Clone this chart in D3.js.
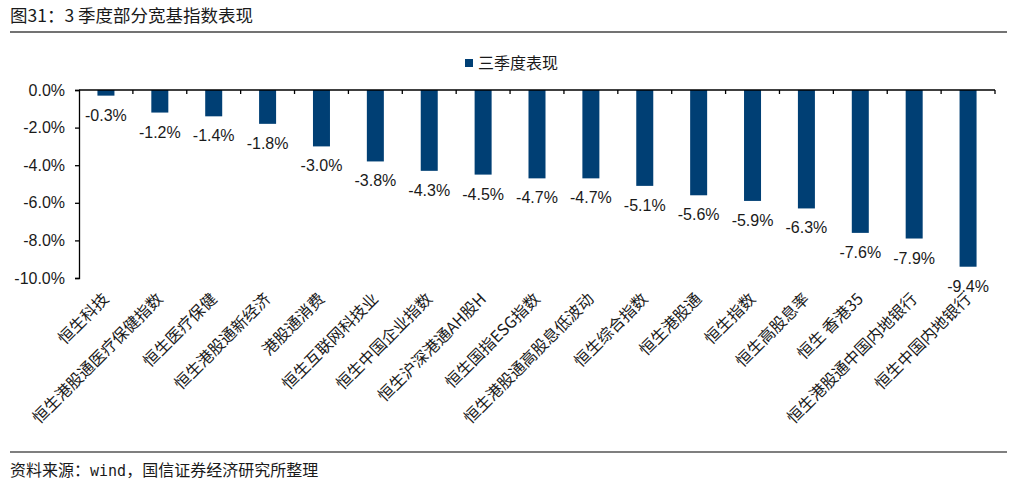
<!DOCTYPE html>
<html><head><meta charset="utf-8">
<script src="https://cdn.jsdelivr.net/npm/d3@7"></script>
<style>
html,body{margin:0;padding:0;background:#fff;}
svg{display:block;}
</style>
</head><body>
<svg id="chart" width="1017" height="485"></svg>
<script>
const categories = ["恒生科技","恒生港股通医疗保健指数","恒生医疗保健","恒生港股通新经济","港股通消费","恒生互联网科技业","恒生中国企业指数","恒生沪深港通AH股H","恒生国指ESG指数","恒生港股通高股息低波动","恒生综合指数","恒生港股通","恒生指数","恒生高股息率","恒生 香港35","恒生港股通中国内地银行","恒生中国内地银行"];
const values = [-0.3,-1.2,-1.4,-1.8,-3.0,-3.8,-4.3,-4.5,-4.7,-4.7,-5.1,-5.6,-5.9,-6.3,-7.6,-7.9,-9.4];
const yTicks = [0,-2,-4,-6,-8,-10];
const seriesName = "三季度表现";
const titleText = "图31：3 季度部分宽基指数表现";

const svg = d3.select("#chart");
const W = 1017;
const cjk = "'Noto Sans CJK SC','Noto Sans',sans-serif";
const latin = "'Liberation Sans',Arial,sans-serif";
const barColor = "#003f74";

// Title
svg.append("text").attr("x",10).attr("y",22)
  .attr("font-family",cjk).attr("font-size",17.5).attr("fill","#1a1a1a")
  .text(titleText);
svg.append("line").attr("x1",10).attr("x2",1007).attr("y1",32).attr("y2",32)
  .attr("stroke","#444").attr("stroke-width",1.5);

// Footer
svg.append("line").attr("x1",10).attr("x2",1007).attr("y1",452).attr("y2",452)
  .attr("stroke","#555").attr("stroke-width",1.5);
const ft = svg.append("text").attr("x",10).attr("y",476)
  .attr("font-family",cjk).attr("font-size",16).attr("fill","#1a1a1a");
ft.append("tspan").text("资料来源：");
ft.append("tspan").attr("font-family","'DejaVu Sans Mono','Liberation Mono',monospace").attr("font-size",15).text("wind");
ft.append("tspan").text("，国信证券经济研究所整理");

// Scales
const x = d3.scaleBand().domain(categories).range([79,995]).padding(0);
const y = d3.scaleLinear().domain([-10,0]).range([278,90]);
const barW = 17;

// Legend
svg.append("rect").attr("x",465).attr("y",59).attr("width",8).attr("height",8).attr("fill",barColor);
svg.append("text").attr("x",478).attr("y",69).attr("font-family",cjk).attr("font-size",16)
  .attr("fill","#1a1a1a").text(seriesName);

// Bars
svg.append("g").selectAll("rect").data(values).join("rect")
  .attr("x",(d,i)=>x(categories[i]) + (x.bandwidth()-barW)/2)
  .attr("y",y(0))
  .attr("width",barW)
  .attr("height",d=>y(d)-y(0))
  .attr("fill",barColor);

// Value labels
svg.append("g").selectAll("text").data(values).join("text")
  .attr("x",(d,i)=>x(categories[i]) + x.bandwidth()/2)
  .attr("y",d=>y(d)+25)
  .attr("text-anchor","middle")
  .attr("font-family",latin).attr("font-size",16).attr("fill","#1a1a1a")
  .text(d=>d.toFixed(1)+"%");

// Y axis
const yAxis = d3.axisLeft(y).tickValues(yTicks).tickSize(4).tickPadding(10)
  .tickFormat(d=>(d===0?"0.0":d.toFixed(1))+"%");
const gy = svg.append("g").attr("transform","translate(79,0)").call(yAxis);
gy.select(".domain").attr("stroke","#000").attr("stroke-width",1.3);
gy.selectAll(".tick line").attr("stroke","#000").attr("stroke-width",1.3);
gy.selectAll(".tick text").attr("font-family",latin).attr("font-size",16).attr("fill","#1a1a1a");

// X axis (at zero) with ticks at band boundaries
svg.append("line").attr("x1",79).attr("x2",995).attr("y1",y(0)).attr("y2",y(0))
  .attr("stroke","#000").attr("stroke-width",1.3);
svg.append("g").selectAll("line").data(categories).join("line")
  .attr("x1",d=>x(d)+x.bandwidth()).attr("x2",d=>x(d)+x.bandwidth())
  .attr("y1",y(0)).attr("y2",y(0)+4)
  .attr("stroke","#000").attr("stroke-width",1.3);

// Category labels
svg.append("g").selectAll("text").data(categories).join("text")
  .attr("transform",d=>`translate(${x(d)+x.bandwidth()/2+4},${300}) rotate(-45)`)
  .attr("text-anchor","end")
  .attr("font-family",cjk).attr("font-size",16).attr("fill","#1a1a1a")
  .text(d=>d);
</script>
</body></html>
